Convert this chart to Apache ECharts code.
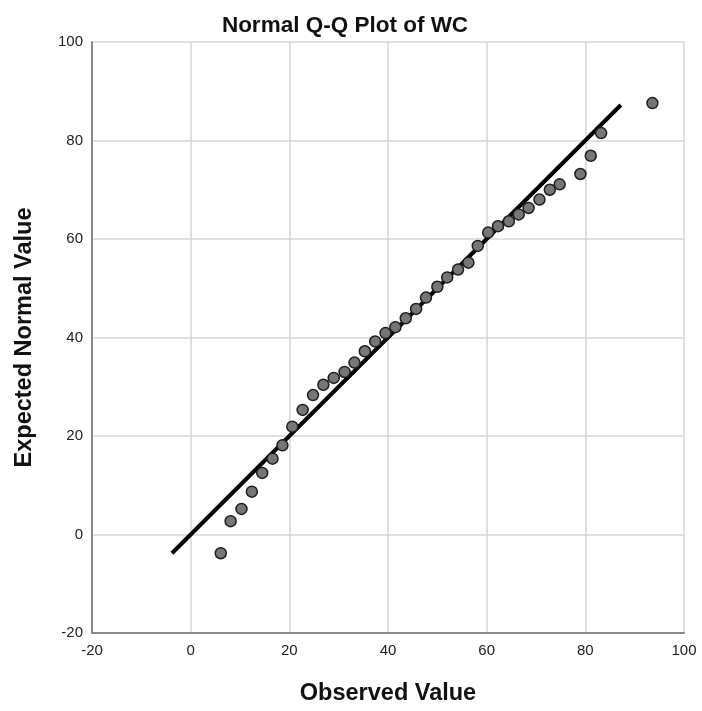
<!DOCTYPE html>
<html lang="en">

<head>
    <meta charset="UTF-8">
    <title>Normal Q-Q Plot of WC</title>
    <script src="https://cdn.jsdelivr.net/npm/echarts@6/dist/echarts.min.js"></script>
    <style>
        html,
        body {
            margin: 0;
            width: 100%;
            height: 100%;
            background: #fff;
        }
    </style>
</head>

<body>
    <div id="chart" style="width: 702px;height: 711px;"></div>
    <script>
        // observed vs expected normal values
        var observed = [6.1, 8.1, 10.3, 12.4, 14.5, 16.6, 18.6, 20.6, 22.7, 24.8,
            26.9, 29.0, 31.2, 33.2, 35.3, 37.4, 39.5, 41.5, 43.6, 45.7,
            47.7, 50.0, 52.0, 54.2, 56.3, 58.2, 60.3, 62.3, 64.5, 66.5,
            68.5, 70.7, 72.8, 74.8, 79.0, 81.1, 83.2, 93.6];
        var expected = [-3.8, 2.7, 5.2, 8.7, 12.5, 15.4, 18.1, 21.9, 25.3, 28.3,
            30.4, 31.8, 33.0, 34.9, 37.2, 39.2, 40.9, 42.1, 43.9, 45.8,
            48.1, 50.3, 52.2, 53.8, 55.2, 58.6, 61.3, 62.6, 63.6, 65.0,
            66.3, 68.0, 70.0, 71.1, 73.2, 76.9, 81.5, 87.6];
        // reference line endpoints (y = x)
        var lineX = [-3.8, 87.2];
        var lineY = [-3.8, 87.2];
        var ticks = [-20, 0, 20, 40, 60, 80, 100];

        var chart = echarts.init(document.getElementById('chart'));

        var points = observed.map(function (v, i) { return [v, expected[i]]; });
        var line = lineX.map(function (v, i) { return [v, lineY[i]]; });

        var font = '"Liberation Sans", Arial, sans-serif';
        var axisCommon = {
            type: 'value',
            min: ticks[0],
            max: ticks[ticks.length - 1],
            interval: 20,
            nameLocation: 'middle',
            nameTextStyle: { fontFamily: font, fontSize: 23.5, fontWeight: 'bold', color: '#111' },
            axisLine: { show: true, onZero: false, lineStyle: { color: '#8a8a8a', width: 2 } },
            axisTick: { show: false },
            axisLabel: { fontFamily: font, fontSize: 15, color: '#222' },
            splitLine: { show: true, lineStyle: { color: '#d6d6d6', width: 1.5 } }
        };

        chart.setOption({
            animation: false,
            title: {
                text: 'Normal Q-Q Plot of WC',
                left: 340,
                top: 9,
                textAlign: 'center',
                textStyle: { fontFamily: font, fontSize: 22.5, fontWeight: 'bold', color: '#111' }
            },
            grid: { left: 92, right: 18, top: 42, bottom: 76 },
            xAxis: Object.assign({}, axisCommon, {
                name: 'Observed Value',
                nameGap: 49,
                axisLabel: Object.assign({}, axisCommon.axisLabel, { margin: 10 })
            }),
            yAxis: Object.assign({}, axisCommon, {
                name: 'Expected Normal Value',
                nameGap: 55,
                axisLabel: Object.assign({}, axisCommon.axisLabel, { margin: 9 })
            }),
            series: [{
                type: 'line',
                data: line,
                symbol: 'none',
                lineStyle: { color: '#000', width: 4 },
                z: 2
            }, {
                type: 'scatter',
                data: points,
                symbol: 'circle',
                symbolSize: 11,
                itemStyle: { color: '#767676', borderColor: '#1e1e1e', borderWidth: 1.5, opacity: 1 },
                z: 3
            }]
        });
    </script>
</body>

</html>
